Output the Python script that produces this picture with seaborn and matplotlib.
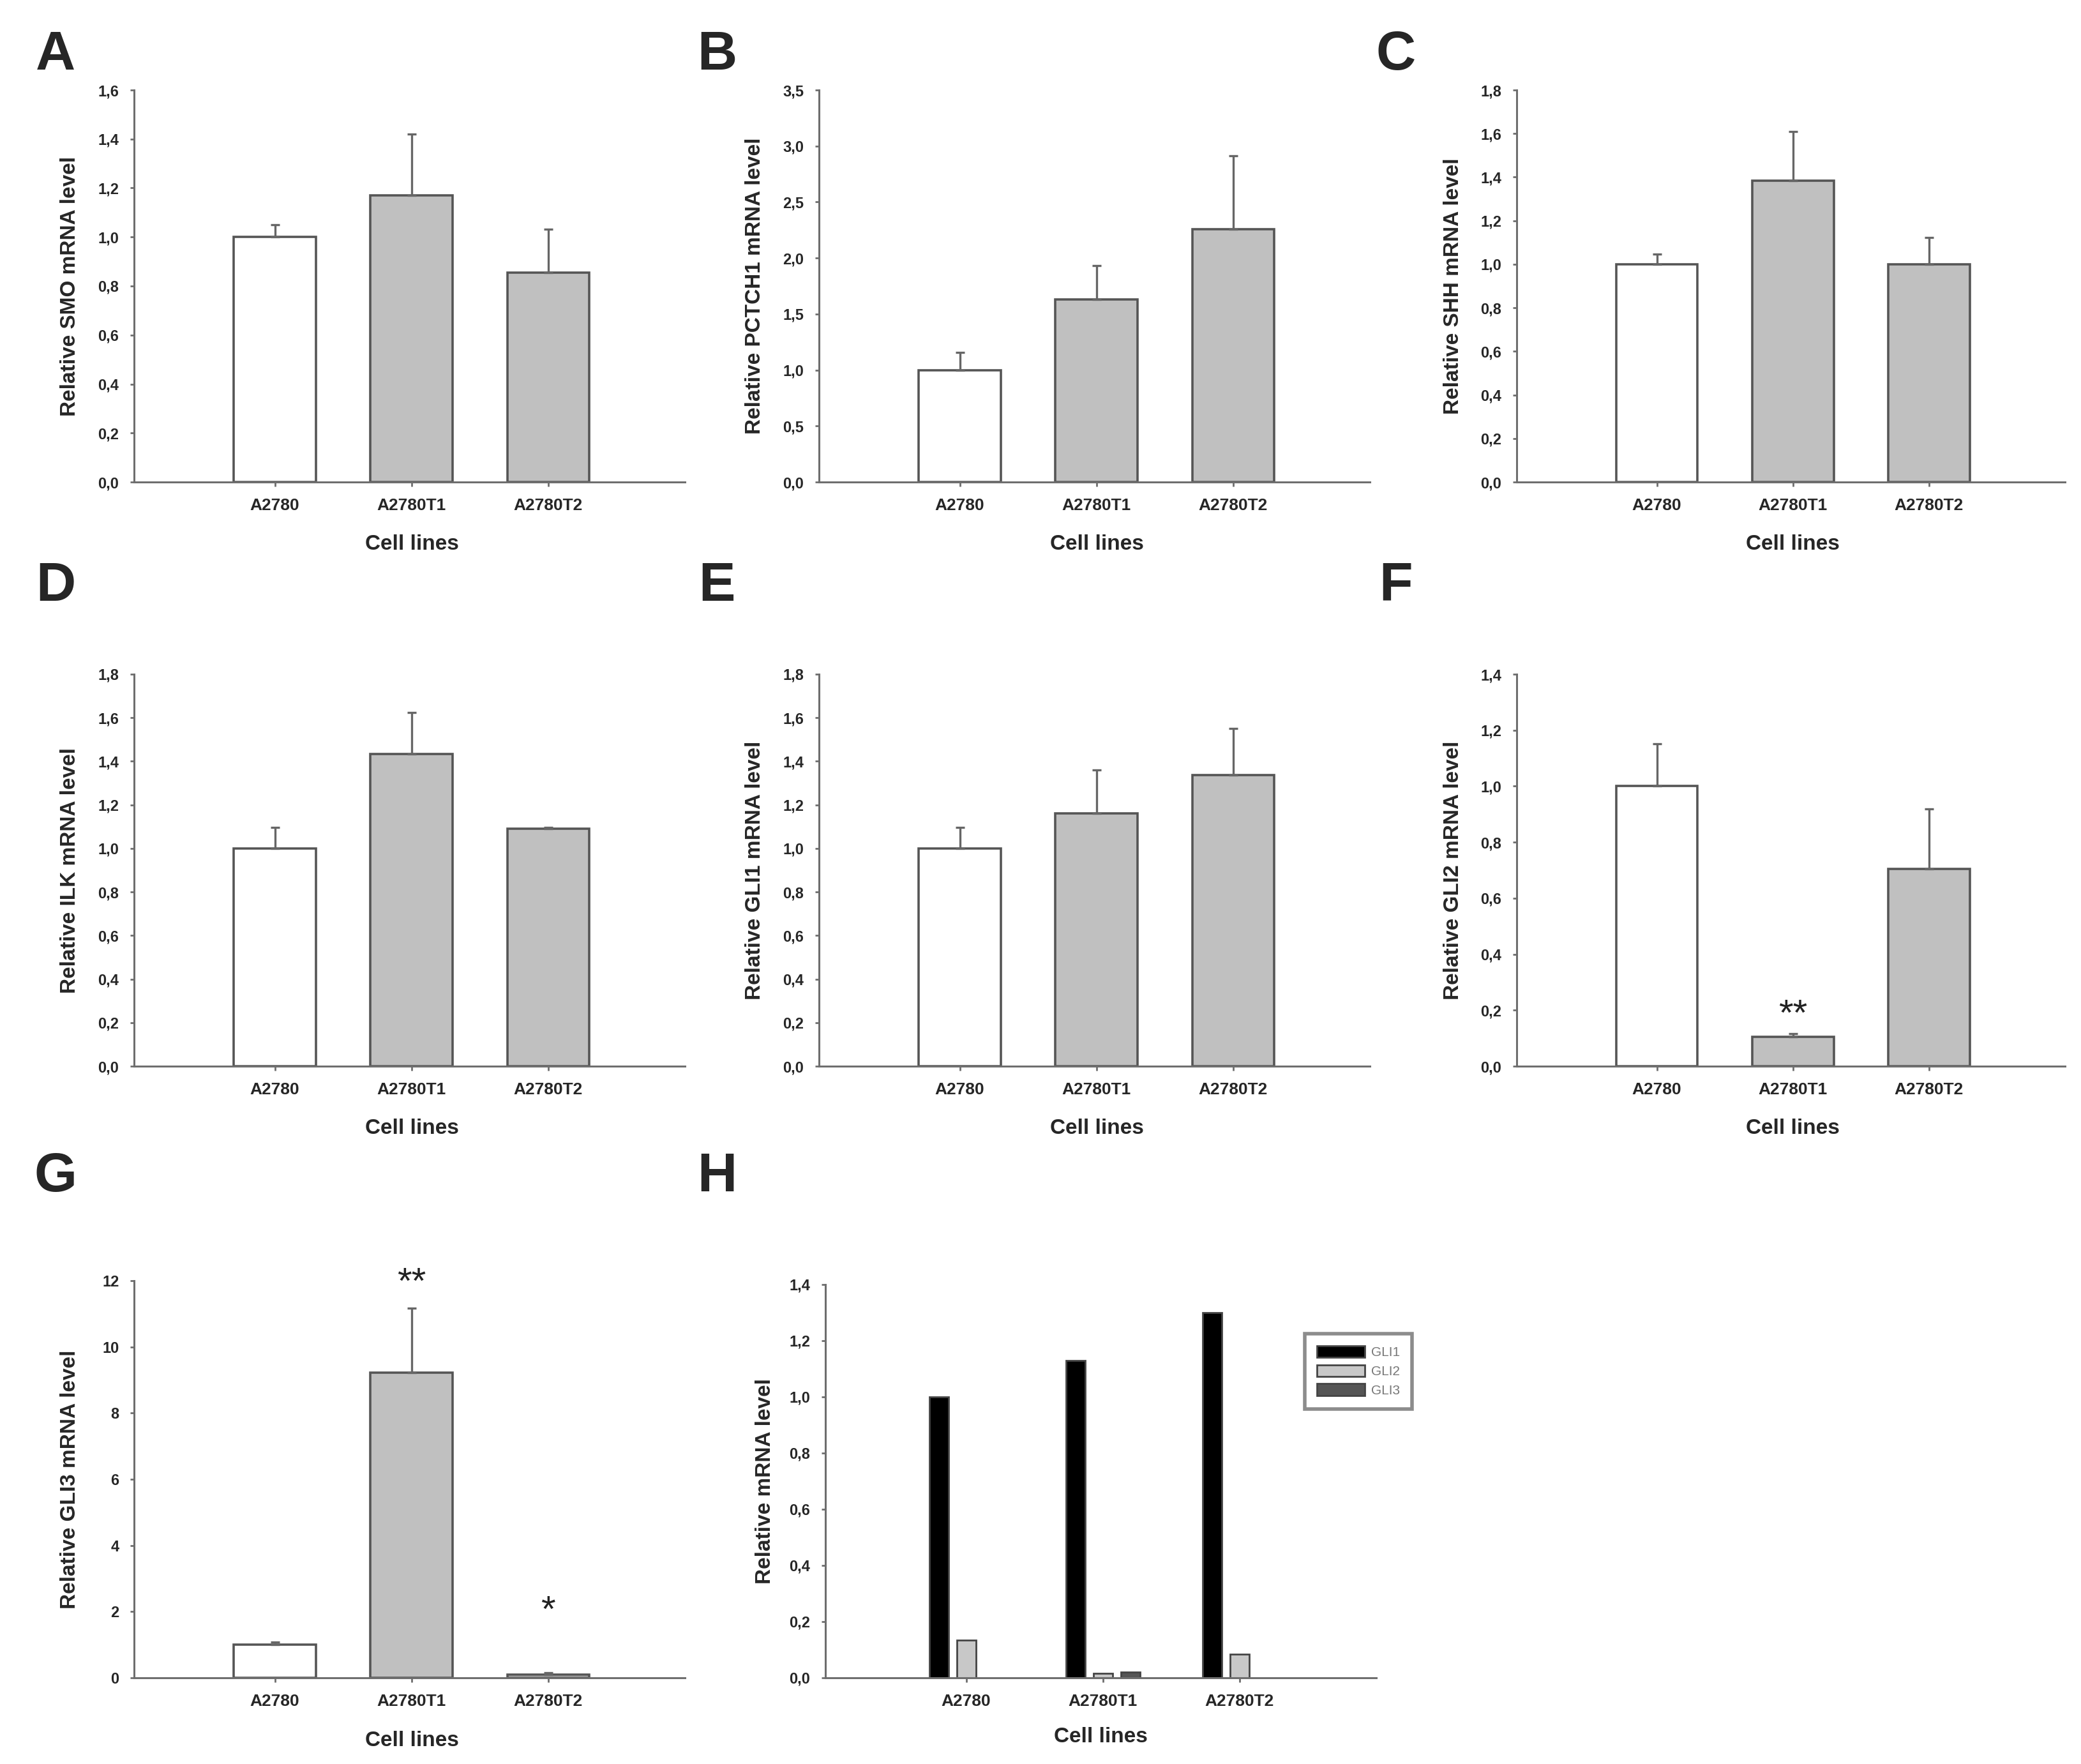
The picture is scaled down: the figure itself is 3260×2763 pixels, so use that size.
import numpy as np
import pandas as pd
import matplotlib
matplotlib.use("Agg")
import matplotlib.pyplot as plt
from matplotlib.ticker import FuncFormatter, MultipleLocator
import seaborn as sns

sns.set_style("ticks")
plt.rcParams["font.family"] = ["Liberation Sans", "DejaVu Sans"]

cells = ["A2780", "A2780T1", "A2780T2"]

# panel A-G: mean and upper error bar
smo = [1.0, 1.17, 0.855]
smo_err = [0.05, 0.25, 0.177]
ptch1 = [1.0, 1.63, 2.255]
ptch1_err = [0.157, 0.30, 0.657]
shh = [1.0, 1.385, 1.0]
shh_err = [0.048, 0.223, 0.123]
ilk = [1.0, 1.435, 1.09]
ilk_err = [0.096, 0.19, 0.005]
gli1 = [1.0, 1.16, 1.336]
gli1_err = [0.096, 0.20, 0.216]
gli2 = [1.0, 0.106, 0.705]
gli2_err = [0.152, 0.011, 0.215]
gli3 = [1.0, 9.23, 0.10]
gli3_err = [0.08, 1.95, 0.05]

# panel H: relative mRNA level per gene
h_genes = ["GLI1", "GLI2", "GLI3"]
h_gli1 = [1.0, 1.13, 1.30]
h_gli2 = [0.135, 0.016, 0.085]
h_gli3 = [0.0, 0.02, 0.0]

# significance marks: (category index, y, text)
stars_f = [(1, 0.18, "**")]
stars_g = [(1, 11.9, "**"), (2, 2.0, "*")]

W, H = 3260, 2763
fig = plt.figure(figsize=(W / 200, H / 200), dpi=200)

AX_COL = "#6e6e6e"
EDGE = "#555555"
BAR_COLORS = ["#ffffff", "#c0c0c0", "#c0c0c0"]


def comma(v, pos):
    return f"{v:.1f}".replace(".", ",")


def rect(left, top, right, bottom):
    return [left / W, 1 - bottom / H, (right - left) / W, (bottom - top) / H]


def style_axes(ax, ymax, step, fmt, ylabel):
    ax.set_xlim(-1.03, 3.0)
    ax.set_ylim(0, ymax)
    ax.yaxis.set_major_locator(MultipleLocator(step))
    ax.yaxis.set_major_formatter(FuncFormatter(fmt))
    sns.despine(ax=ax)
    for s in ["left", "bottom"]:
        ax.spines[s].set_color(AX_COL)
        ax.spines[s].set_linewidth(1.1)
    ax.tick_params(axis="y", length=2, width=1, color=AX_COL, pad=6.5,
                   labelsize=8.5)
    ax.tick_params(axis="x", length=2.5, width=1, color=AX_COL, pad=6.5,
                   labelsize=9.5)
    for t in ax.get_yticklabels() + ax.get_xticklabels():
        t.set_fontweight("bold")
    ax.set_ylabel(ylabel, fontsize=12, fontweight="bold")
    ax.set_xlabel("Cell lines", fontsize=12, fontweight="bold")
    ax.yaxis.set_label_coords(-0.098, 0.5)
    ax.xaxis.set_label_coords(0.504, -0.133)


def bar_panel(r, vals, errs, ymax, step, ylabel, fmt=comma, stars=()):
    ax = fig.add_axes(r)
    sns.barplot(x=cells, y=vals, hue=cells, palette=BAR_COLORS, legend=False,
                width=0.6, edgecolor=EDGE, linewidth=1.3, errorbar=None, ax=ax)
    ax.errorbar(np.arange(len(cells)), vals, yerr=[np.zeros(len(errs)), errs],
                fmt="none", ecolor="#666666", elinewidth=1.2, capsize=2.5,
                capthick=1.2, zorder=5)
    for i, y, s in stars:
        ax.text(i, y, s, ha="center", va="center", fontsize=21, color="#222222")
    style_axes(ax, ymax, step, fmt, ylabel)
    return ax


row1 = (141, 755)
row2 = (1056, 1670)

bar_panel(rect(210, row1[0], 1073, row1[1]), smo, smo_err, 1.6, 0.2,
          "Relative SMO mRNA level")
bar_panel(rect(1283, row1[0], 2146, row1[1]), ptch1, ptch1_err, 3.5, 0.5,
          "Relative PCTCH1 mRNA level")
bar_panel(rect(2376, row1[0], 3235, row1[1]), shh, shh_err, 1.8, 0.2,
          "Relative SHH mRNA level")
bar_panel(rect(210, row2[0], 1073, row2[1]), ilk, ilk_err, 1.8, 0.2,
          "Relative ILK mRNA level")
bar_panel(rect(1283, row2[0], 2146, row2[1]), gli1, gli1_err, 1.8, 0.2,
          "Relative GLI1 mRNA level")
bar_panel(rect(2376, row2[0], 3235, row2[1]), gli2, gli2_err, 1.4, 0.2,
          "Relative GLI2 mRNA level", stars=stars_f)
bar_panel(rect(210, 2006, 1073, 2628), gli3, gli3_err, 12, 2,
          "Relative GLI3 mRNA level", fmt=lambda v, p: f"{v:.0f}", stars=stars_g)

# panel H: grouped bars
df_h = pd.DataFrame({
    "cell": cells * 3,
    "gene": np.repeat(h_genes, 3),
    "level": h_gli1 + h_gli2 + h_gli3,
})
axh = fig.add_axes(rect(1293, 2012, 2156, 2628))
sns.barplot(data=df_h, x="cell", y="level", hue="gene",
            palette=["#000000", "#c8c8c8", "#555555"], width=0.6, gap=0.3,
            edgecolor="#444444", linewidth=1.0, errorbar=None, ax=axh)
style_axes(axh, 1.4, 0.2, comma, "Relative mRNA level")
axh.yaxis.set_label_coords(-0.092, 0.5)
axh.xaxis.set_label_coords(0.5, -0.125)
leg = axh.legend(loc="upper left", bbox_to_anchor=(0.870, 0.875),
                 borderaxespad=0, fancybox=False, shadow=False, fontsize=7.5,
                 handlelength=3.6, handleheight=1.0, labelspacing=0.45,
                 handletextpad=0.5, borderpad=0.9, title=None)
leg.get_frame().set_edgecolor("#707070")
leg.get_frame().set_linewidth(2.0)
for t in leg.get_texts():
    t.set_color("#777777")

# panel letters
for letter, x, y in [("A", 87, 87), ("B", 1123, 87), ("C", 2187, 87),
                     ("D", 87, 919), ("E", 1123, 919), ("F", 2187, 919),
                     ("G", 87, 1844), ("H", 1123, 1844)]:
    fig.text(x / W, 1 - y / H, letter, ha="center", va="center",
             fontsize=31, fontweight="bold")

fig.savefig("out.png", dpi=200, facecolor="white")
